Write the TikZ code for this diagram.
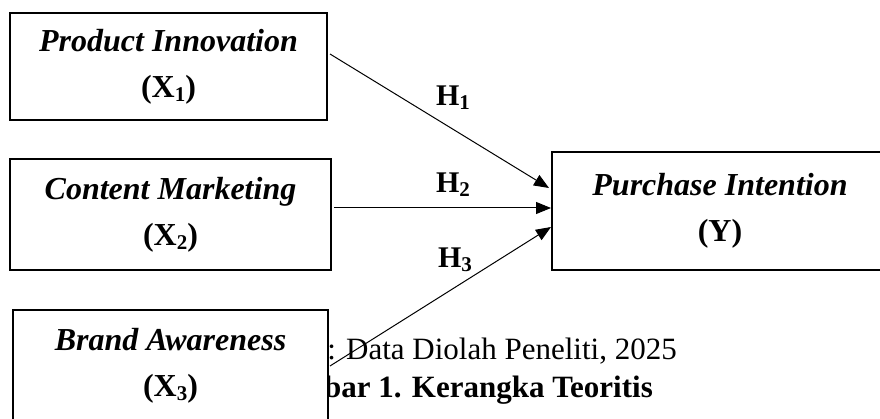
\documentclass[tikz,border=0pt]{standalone}
\usepackage{fontspec}
\setmainfont{Liberation Serif}
\usetikzlibrary{arrows.meta}
\newcommand{\subs}[1]{\raisebox{-0.12em}{\fontsize{21}{21}\selectfont #1}}
\begin{document}
\begin{tikzpicture}[x=1pt,y=-1pt,
  varbox/.style={draw=black, line width=2pt, fill=white, align=center, inner sep=0pt,
    font=\fontsize{32}{46}\selectfont},
  hyp/.style={-{Triangle[length=15pt,width=12pt]}, line width=1pt},
  hlab/.style={font=\fontsize{30}{30}\selectfont\bfseries, anchor=base},
  captext/.style={font=\fontsize{31}{31}\selectfont, anchor=base east, inner sep=0pt}]
\useasboundingbox (0,0) rectangle (880,419);
\clip (0,0) rectangle (880,419);
\fill[white] (0,0) rectangle (880,419);
% caption (partly hidden behind the X3 box, as in the reference)
\node[captext] (src) at (677,359) {Sumber: Data Diolah Peneliti, 2025};
\node[captext, font=\fontsize{31}{31}\selectfont\bfseries] (fig) at (653,397) {Gambar 1. Kerangka Teoritis};
% boxes
\node[varbox, minimum width=317pt, minimum height=107pt] (x1) at (168.5,66.5)
  {\textbf{\textit{Product Innovation}}\\\textbf{(X\subs{1})}};
\node[varbox, minimum width=321pt, minimum height=111pt] (x2) at (170.5,214.5)
  {\textbf{\textit{Content Marketing}}\\\textbf{(X\subs{2})}};
\node[varbox, minimum width=315pt, minimum height=112pt] (x3) at (170.5,366)
  {\textbf{\textit{Brand Awareness}}\\\textbf{(X\subs{3})}};
\node[varbox, minimum width=336pt, minimum height=118pt] (y) at (720,211)
  {\textbf{\textit{Purchase Intention}}\\\textbf{(Y)}};
% connectors
\draw[hyp] ([xshift=2pt,yshift=12.5pt]x1.east) -- ([xshift=-2pt,yshift=23pt]y.west);
\draw[hyp] ([xshift=2pt,yshift=6.5pt]x2.east) -- ([yshift=3pt]y.west);
\draw[hyp] ([xshift=1pt]x3.east) -- ([yshift=-16pt]y.west);
% labels
\node[hlab] (h1) at (453,106) {H\subs{1}};
\node[hlab] (h2) at (453,193) {H\subs{2}};
\node[hlab] (h3) at (455,268) {H\subs{3}};
\end{tikzpicture}
\end{document}
